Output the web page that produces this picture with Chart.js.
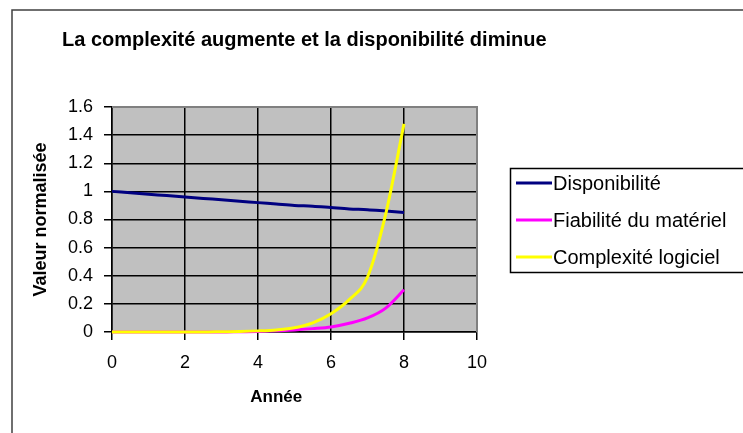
<!DOCTYPE html>
<html>
<head>
<meta charset="utf-8">
<style>
  html, body { margin: 0; padding: 0; background: #fff; }
  #wrap { width: 743px; height: 433px; position: relative; }
</style>
<script src="https://cdn.jsdelivr.net/npm/chart.js@4.4.1/dist/chart.umd.min.js"></script>
</head>
<body>
<div id="wrap"><canvas id="chart"></canvas></div>
<script>
const TITLE = 'La complexité augmente et la disponibilité diminue';
const X_TITLE = 'Année';
const Y_TITLE = 'Valeur normalisée';

const seriesNames = ['Disponibilité', 'Fiabilité du matériel', 'Complexité logiciel'];
const years = [0, 0.5, 1, 1.5, 2, 2.5, 3, 3.5, 4, 4.5, 5, 5.5, 6, 6.5, 7, 7.5, 8];
const disponibilite = [1.00, 0.99, 0.98, 0.97, 0.96, 0.95, 0.94, 0.93, 0.92, 0.91, 0.90, 0.895, 0.885, 0.875, 0.87, 0.86, 0.85];
const fiabilite = [0, 0, 0, 0, 0, 0, 0, 0.002, 0.004, 0.008, 0.015, 0.024, 0.036, 0.062, 0.10, 0.17, 0.30];
const complexite = [0, 0, 0, 0, 0, 0, 0.002, 0.004, 0.008, 0.015, 0.03, 0.065, 0.13, 0.23, 0.39, 0.84, 1.48];

const xTickLabels = ['0', '2', '4', '6', '8', '10'];
const yTickLabels = ['0', '0.2', '0.4', '0.6', '0.8', '1', '1.2', '1.4', '1.6'];

const FONT = "'Liberation Sans', Arial, sans-serif";
Chart.defaults.font.family = FONT;
Chart.defaults.color = '#000';

function pts(vals) {
    return years.map((x, i) => ({ x: x, y: vals[i] }));
}

// excel-ish look: grey plot, outer frame, titles and boxed legend
const excelLook = {
    id: 'excelLook',
    beforeDraw(chart) {
        const { ctx, chartArea: a } = chart;
        ctx.save();
        ctx.fillStyle = '#fff';
        ctx.fillRect(0, 0, chart.width, chart.height);
        ctx.fillStyle = '#c0c0c0';
        ctx.fillRect(a.left, a.top, a.right - a.left, a.bottom - a.top);
        ctx.restore();
    },
    beforeDatasetsDraw(chart) {
        const { ctx, chartArea: a } = chart;
        ctx.save();
        ctx.strokeStyle = '#808080';
        ctx.lineWidth = 2;
        ctx.beginPath();
        ctx.moveTo(a.left, a.top);
        ctx.lineTo(a.right, a.top);
        ctx.lineTo(a.right, a.bottom);
        ctx.stroke();
        ctx.restore();
    },
    afterDraw(chart) {
        const ctx = chart.ctx;
        const x = chart.scales.x;
        ctx.save();
        // outer frame (runs off the picture on right and bottom)
        ctx.strokeStyle = '#404040';
        ctx.lineWidth = 1.5;
        ctx.beginPath();
        ctx.moveTo(12, chart.height + 5);
        ctx.lineTo(12, 10);
        ctx.lineTo(chart.width + 5, 10);
        ctx.stroke();

        ctx.fillStyle = '#000';
        ctx.font = 'bold 20px ' + FONT;
        ctx.textBaseline = 'alphabetic';
        ctx.textAlign = 'left';
        ctx.fillText(TITLE, 62, 46);

        // x title sits a bit left of the plot centre, like in excel
        ctx.font = 'bold 17px ' + FONT;
        ctx.textAlign = 'center';
        ctx.textBaseline = 'middle';
        ctx.fillText(X_TITLE, x.getPixelForValue(4.5), 397);

        // legend
        ctx.textAlign = 'left';
        ctx.strokeStyle = '#000';
        ctx.lineWidth = 1.5;
        ctx.strokeRect(510.5, 168.5, 260, 104);
        ctx.font = '20px ' + FONT;
        chart.data.datasets.forEach((ds, i) => {
            const y = 183 + i * 37;
            ctx.strokeStyle = ds.borderColor;
            ctx.lineWidth = 3;
            ctx.beginPath();
            ctx.moveTo(516, y);
            ctx.lineTo(552, y);
            ctx.stroke();
            ctx.fillStyle = '#000';
            ctx.fillText(ds.label, 553, y + 1);
        });
        ctx.restore();
    }
};

new Chart(document.getElementById('chart'), {
    type: 'line',
    data: {
        datasets: [
            {
                label: seriesNames[0],
                data: pts(disponibilite),
                borderColor: '#000080',
                order: 2
            },
            {
                label: seriesNames[1],
                data: pts(fiabilite),
                borderColor: '#ff00ff',
                order: 1
            },
            {
                label: seriesNames[2],
                data: pts(complexite),
                borderColor: '#ffff00',
                order: 0
            }
        ]
    },
    options: {
        responsive: true,
        maintainAspectRatio: false,
        animation: false,
        devicePixelRatio: 1,
        layout: { padding: { left: 20, top: 107, right: 266, bottom: 10 } },
        elements: {
            line: { borderWidth: 3, cubicInterpolationMode: 'monotone', fill: false },
            point: { radius: 0 }
        },
        datasets: { line: { clip: false } },
        plugins: {
            legend: { display: false },
            title: { display: false },
            tooltip: { enabled: false }
        },
        scales: {
            x: {
                type: 'linear',
                min: 0,
                max: 10,
                afterFit(scale) { scale.height = 91; },
                ticks: {
                    stepSize: 2,
                    padding: 12,
                    font: { size: 18 },
                    maxRotation: 0,
                    callback: (v) => xTickLabels[Math.round(v / 2)]
                },
                grid: { color: '#000', lineWidth: 1.5, tickLength: 8 },
                border: { color: '#000', width: 1.5 }
            },
            y: {
                min: 0,
                max: 1.6,
                afterFit(scale) { scale.width = 92; },
                ticks: {
                    stepSize: 0.2,
                    padding: 11,
                    font: { size: 18 },
                    callback: (v) => yTickLabels[Math.round(v / 0.2)]
                },
                grid: { color: '#000', lineWidth: 1.5, tickLength: 8 },
                border: { color: '#000', width: 1.5 },
                title: {
                    display: true,
                    text: Y_TITLE,
                    font: { size: 18, weight: 'bold' },
                    padding: { top: 10, bottom: 0 }
                }
            }
        }
    },
    plugins: [excelLook]
});
</script>
</body>
</html>
